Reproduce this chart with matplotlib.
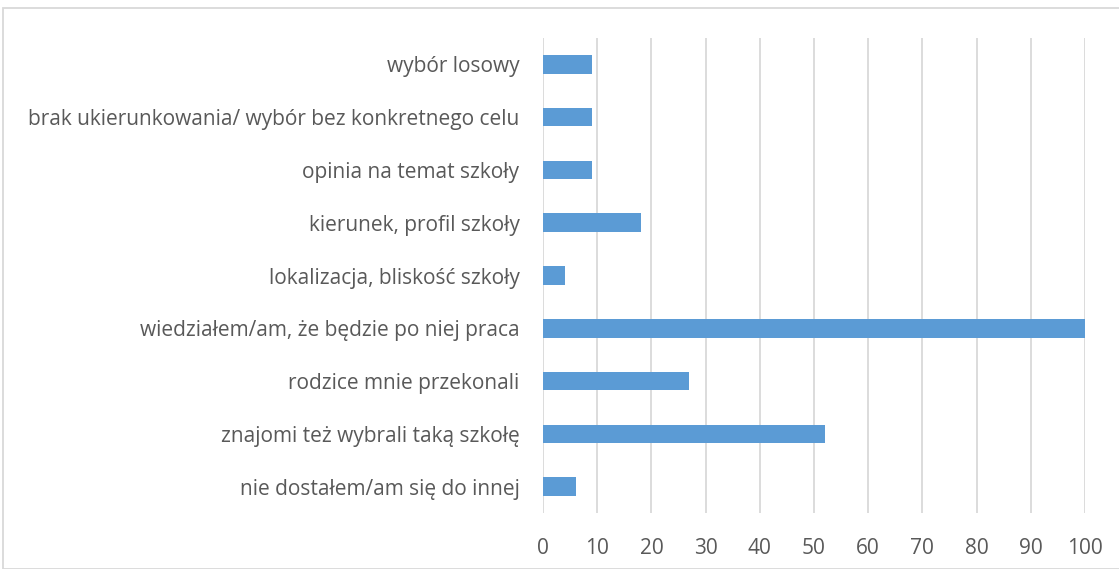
import matplotlib
matplotlib.use("Agg")
from matplotlib import pyplot as plt
from matplotlib.patches import Rectangle

# Données
categories = [
    "nie dostałem/am się do innej",
    "znajomi też wybrali taką szkołę",
    "rodzice mnie przekonali",
    "wiedziałem/am, że będzie po niej praca",
    "lokalizacja, bliskość szkoły",
    "kierunek, profil szkoły",
    "opinia na temat szkoły",
    "brak ukierunkowania/ wybór bez konkretnego celu",
    "wybór losowy",
]
values = [6, 52, 27, 100, 4, 18, 9, 9, 9]
xticks = list(range(0, 101, 10))

BAR_COLOR = "#5B9BD5"
GRID_COLOR = "#D9D9D9"
TEXT_COLOR = "#595959"

W, H = 1119, 569
fig = plt.figure(figsize=(W / 100, H / 100), dpi=100)
ax = fig.add_axes([543 / W, 1 - 513 / H, (1085 - 543) / W, (513 - 38) / H])

ax.barh(range(len(categories)), values, height=0.35, color=BAR_COLOR, zorder=3)
ax.set_xlim(0, 100)
ax.set_ylim(-0.5, len(categories) - 0.5)
ax.set_xticks(xticks)
ax.set_yticks(range(len(categories)))
ax.set_yticklabels(categories)

ax.grid(axis="x", color=GRID_COLOR, linewidth=1.3, zorder=0)
for s in ax.spines.values():
    s.set_visible(False)
ax.tick_params(length=0, labelcolor=TEXT_COLOR, labelsize=15)
ax.tick_params(axis="x", pad=18)
ax.tick_params(axis="y", pad=17)
for lbl in ax.get_xticklabels() + ax.get_yticklabels():
    lbl.set_family("Open Sans")

# Cadre du graphique
fig.patches.append(Rectangle((3 / W, 0), 1.2, 1 - 8 / H, transform=fig.transFigure,
                             fill=False, edgecolor=GRID_COLOR, linewidth=1.3))

fig.savefig("out.png", dpi=100)
